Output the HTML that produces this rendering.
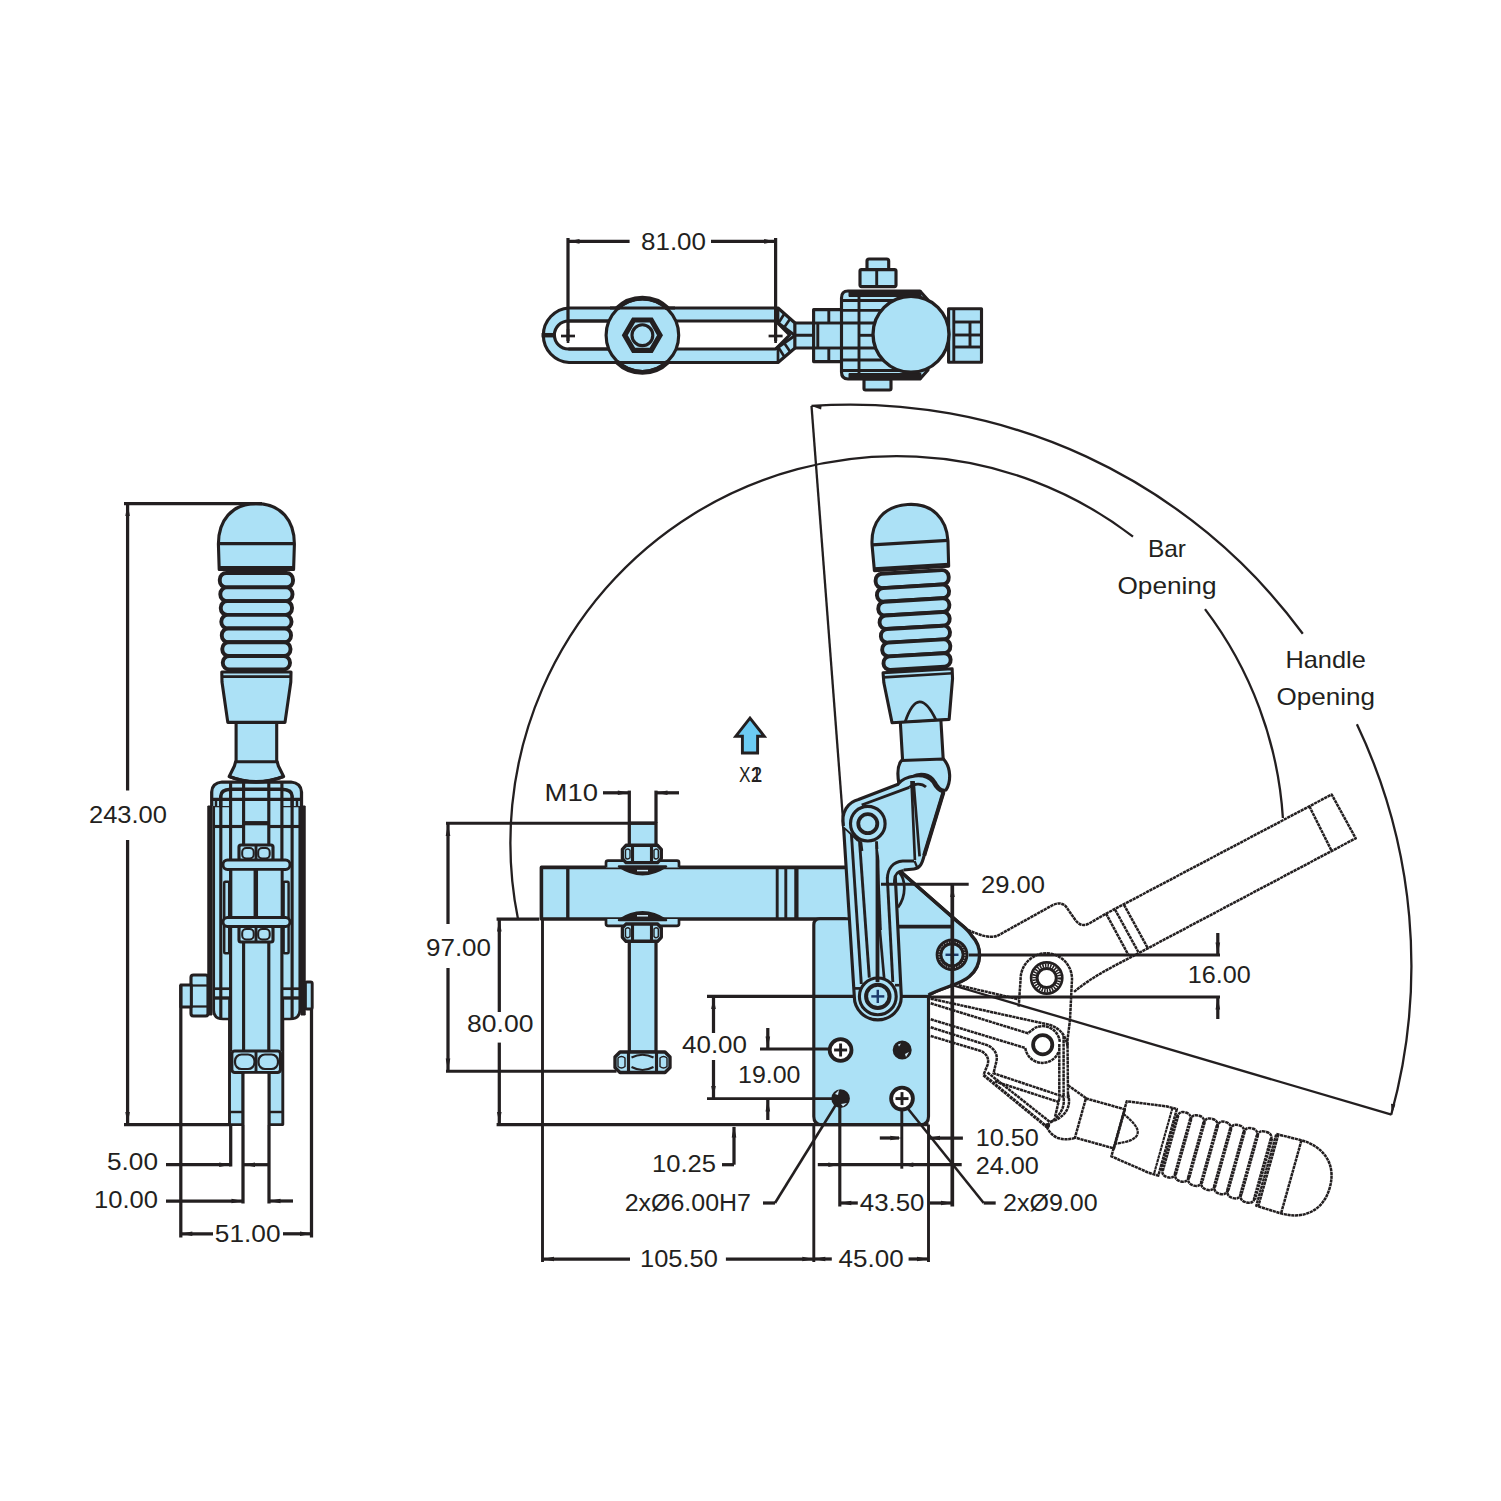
<!DOCTYPE html>
<html><head><meta charset="utf-8"><title>Toggle clamp drawing</title>
<style>
html,body{margin:0;padding:0;background:#fff;}
svg{display:block;}
svg text{font-family:"Liberation Sans",sans-serif;fill:#231f20;stroke:none;}
</style></head><body>
<svg width="1501" height="1501" viewBox="0 0 1501 1501" stroke="#231f20" fill="none" stroke-linecap="butt" stroke-linejoin="round">
<rect x="0" y="0" width="1501" height="1501" fill="#ffffff" stroke="none"/>
<g id="leftview">
<rect x="229.5" y="1015.0" width="13.5" height="109.6" rx="0" stroke-width="2.91" fill="#ace1f6" />
<rect x="269.0" y="1015.0" width="13.8" height="109.6" rx="0" stroke-width="2.91" fill="#ace1f6" />
<line x1="229.5" y1="1112.0" x2="243.0" y2="1112.0" stroke-width="2.46" />
<line x1="269.0" y1="1112.0" x2="282.8" y2="1112.0" stroke-width="2.46" />
<rect x="243.0" y="940.0" width="26.0" height="111.0" rx="0" stroke-width="2.91" fill="#ace1f6" />
<path d="M213.7,806 L213.7,1010 Q213.7,1019 223,1019 L229.5,1019 L229.5,1000 L282.8,1000 L282.8,1019 L290,1019 Q299.8,1019 299.8,1010 L299.8,806 Z" stroke-width="2.69" fill="#ace1f6" />
<rect x="229.5" y="806.0" width="53.3" height="245.0" rx="0" stroke-width="0" fill="#ace1f6" stroke="none"/>
<rect x="243.0" y="806.0" width="26.0" height="245.0" rx="0" stroke-width="0" fill="#ace1f6" stroke="none"/>
<path d="M211.7,806 L211.7,792 Q212,783 222,782 L291,782 Q301,783 301.5,792 L301.5,806 Z" stroke-width="0" fill="#ace1f6" stroke="none"/>
<path d="M211.7,806 L211.7,792 Q212,783 222,782 L291,782 Q301,783 301.5,792 L301.5,806" stroke-width="3.25" fill="none" />
<path d="M220.8,806 L220.8,796 Q221,789.5 230.6,789.2 L281.9,789.2 Q292,789.5 292.1,796 L292.1,806" stroke-width="3.58" fill="none" />
<rect x="207.8" y="806.0" width="4.2" height="209.0" rx="0" stroke-width="1.0" fill="#231f20" />
<rect x="301.0" y="806.0" width="4.2" height="209.0" rx="0" stroke-width="1.0" fill="#231f20" />
<line x1="220.8" y1="806.0" x2="220.8" y2="1018.0" stroke-width="3.14" />
<line x1="230.6" y1="782.0" x2="230.6" y2="1051.0" stroke-width="3.14" />
<line x1="243.6" y1="782.0" x2="243.6" y2="1051.0" stroke-width="3.14" />
<line x1="268.8" y1="782.0" x2="268.8" y2="1051.0" stroke-width="3.14" />
<line x1="281.9" y1="782.0" x2="281.9" y2="1051.0" stroke-width="3.14" />
<line x1="292.1" y1="806.0" x2="292.1" y2="1018.0" stroke-width="3.14" />
<line x1="216.0" y1="800.0" x2="216.0" y2="806.0" stroke-width="2.46" />
<line x1="297.0" y1="800.0" x2="297.0" y2="806.0" stroke-width="2.46" />
<line x1="211.7" y1="799.4" x2="301.5" y2="799.4" stroke-width="3.14" />
<line x1="213.0" y1="826.5" x2="243.6" y2="826.5" stroke-width="3.14" />
<line x1="268.8" y1="826.5" x2="300.0" y2="826.5" stroke-width="3.14" />
<line x1="243.6" y1="823.2" x2="268.8" y2="823.2" stroke-width="4.26" />
<rect x="239.0" y="845.0" width="34.0" height="15.5" rx="2" stroke-width="3.14" fill="#ace1f6" />
<rect x="242.2" y="848.0" width="11.5" height="10.5" rx="4" stroke-width="2.02" fill="#ace1f6" />
<rect x="258.2" y="848.0" width="11.5" height="10.5" rx="4" stroke-width="2.02" fill="#ace1f6" />
<line x1="256.0" y1="845.0" x2="256.0" y2="860.0" stroke-width="2.91" />
<rect x="224.2" y="881.7" width="5.0" height="71.5" rx="1" stroke-width="2.46" fill="#ace1f6" />
<rect x="283.6" y="881.7" width="5.0" height="71.5" rx="1" stroke-width="2.46" fill="#ace1f6" />
<rect x="223.0" y="860.0" width="67.0" height="9.5" rx="4.5" stroke-width="2.91" fill="#ace1f6" />
<rect x="231.0" y="869.5" width="51.0" height="48.0" rx="0" stroke-width="2.69" fill="#ace1f6" />
<rect x="223.0" y="917.5" width="67.0" height="9.0" rx="4.5" stroke-width="2.91" fill="#ace1f6" />
<line x1="255.8" y1="869.0" x2="255.8" y2="918.0" stroke-width="4.48" />
<rect x="239.0" y="926.5" width="34.0" height="15.5" rx="2" stroke-width="3.14" fill="#ace1f6" />
<rect x="242.2" y="929.0" width="11.5" height="10.5" rx="4" stroke-width="2.02" fill="#ace1f6" />
<rect x="258.2" y="929.0" width="11.5" height="10.5" rx="4" stroke-width="2.02" fill="#ace1f6" />
<line x1="256.0" y1="926.5" x2="256.0" y2="942.0" stroke-width="2.91" />
<rect x="231.8" y="1051.0" width="48.7" height="21.5" rx="3" stroke-width="3.14" fill="#ace1f6" />
<rect x="235.0" y="1054.5" width="19.5" height="14.5" rx="6.5" stroke-width="2.24" fill="#ace1f6" />
<rect x="258.5" y="1054.5" width="19.5" height="14.5" rx="6.5" stroke-width="2.24" fill="#ace1f6" />
<line x1="256.0" y1="1051.0" x2="256.0" y2="1072.5" stroke-width="2.91" />
<rect x="244.3" y="1073.8" width="23.4" height="52.0" rx="0" stroke-width="0" fill="#fff" stroke="none"/>
<line x1="243.0" y1="1072.5" x2="243.0" y2="1124.6" stroke-width="2.91" />
<line x1="269.0" y1="1072.5" x2="269.0" y2="1124.6" stroke-width="2.91" />
<rect x="191.0" y="975.0" width="17.0" height="41.0" rx="2.5" stroke-width="3.14" fill="#ace1f6" />
<rect x="180.8" y="985.0" width="10.5" height="22.0" rx="0" stroke-width="2.91" fill="#ace1f6" />
<line x1="191.0" y1="985.5" x2="208.0" y2="985.5" stroke-width="2.24" />
<line x1="191.0" y1="1006.5" x2="208.0" y2="1006.5" stroke-width="2.24" />
<rect x="305.4" y="982.0" width="6.8" height="27.0" rx="1.5" stroke-width="2.91" fill="#ace1f6" />
<line x1="213.0" y1="988.7" x2="230.6" y2="988.7" stroke-width="2.69" />
<line x1="213.0" y1="998.0" x2="230.6" y2="998.0" stroke-width="3.36" />
<line x1="281.9" y1="988.7" x2="299.0" y2="988.7" stroke-width="2.69" />
<line x1="281.9" y1="998.0" x2="299.0" y2="998.0" stroke-width="3.36" />
<g transform="translate(256.4,542) rotate(0)">
<rect x="-20.3" y="180" width="40.6" height="40.5" fill="#ace1f6" stroke-width="3.1"/>
<path d="M-20.8,219.8 L-22,224 L-27.2,234.5 Q0,245.5 27.2,234.5 L22,224 L20.8,219.8 Z" fill="#ace1f6" stroke-width="3.1"/>
<path d="M-34.6,130 L34.6,130 L34.4,140 L28.6,180.4 L-28.6,180.4 L-34.4,140 Z" fill="#ace1f6" stroke-width="3.1"/>
<path d="M-34.6,134.6 L34.6,134.6" stroke-width="2.63"/>
<rect x="-36.6" y="31.0" width="73.2" height="14.4" rx="6.5" fill="#ace1f6" stroke-width="3.9"/>
<rect x="-36.1" y="45.4" width="72.2" height="13.7" rx="6.5" fill="#ace1f6" stroke-width="3.9"/>
<rect x="-35.6" y="59.1" width="71.2" height="13.8" rx="6.5" fill="#ace1f6" stroke-width="3.9"/>
<rect x="-35.1" y="72.9" width="70.2" height="13.6" rx="6.5" fill="#ace1f6" stroke-width="3.9"/>
<rect x="-34.6" y="86.5" width="69.2" height="13.7" rx="6.5" fill="#ace1f6" stroke-width="3.9"/>
<rect x="-34.1" y="100.2" width="68.2" height="13.8" rx="6.5" fill="#ace1f6" stroke-width="3.9"/>
<rect x="-33.6" y="114.0" width="67.2" height="13.5" rx="6.5" fill="#ace1f6" stroke-width="3.9"/>
<path d="M-37.2,27.5 L-38,2 C-38,-21.1 -25,-38.4 0,-38.4 C25,-38.4 38,-21.1 38,2 L37.2,27.5 Z" fill="#ace1f6" stroke-width="3.1"/>
<path d="M-38,1.6 L38,1.6" stroke-width="3.1"/>
<path d="M-37.4,25.3 L37.4,25.3" stroke-width="2.63"/>
</g>
<path d="M229.4,776.5 Q256.4,787 283.4,776.5" stroke-width="3.36" fill="none" />
</g>
<g id="topview">
<path d="M569,308 L778,308 L795,323 L795,348 L778,362.5 L569,362.5 A27.3 27.3 0 0 1 569,308 Z" stroke-width="3.14" fill="#ace1f6" />
<path d="M568.4,321 L775.6,321 L789.6,335 L775.6,349 L568.4,349 A14 14 0 0 1 568.4,321 Z" stroke-width="3.14" fill="#fff" />
<line x1="778.0" y1="308.0" x2="778.0" y2="321.5" stroke-width="2.69" />
<line x1="778.0" y1="349.0" x2="778.0" y2="362.5" stroke-width="2.69" />
<line x1="775.6" y1="321.0" x2="795.0" y2="335.5" stroke-width="2.91" />
<line x1="775.6" y1="349.0" x2="795.0" y2="335.5" stroke-width="2.91" />
<line x1="784.5" y1="313.5" x2="778.5" y2="323.0" stroke-width="2.69" />
<line x1="790.0" y1="319.0" x2="783.5" y2="328.5" stroke-width="2.69" />
<line x1="784.5" y1="357.0" x2="778.5" y2="347.5" stroke-width="2.69" />
<line x1="790.0" y1="351.5" x2="783.5" y2="342.0" stroke-width="2.69" />
<line x1="541.6" y1="335.2" x2="554.4" y2="335.2" stroke-width="4.48" />
<circle cx="642.4" cy="335.2" r="36.3" stroke-width="3.14" fill="#ace1f6" />
<path d="M617,308.5 A36.3 36.3 0 0 1 667.8,308.5" stroke-width="4.93" fill="none" />
<path d="M617,362 A36.3 36.3 0 0 0 667.8,362" stroke-width="4.93" fill="none" />
<line x1="568.4" y1="321.0" x2="608.6" y2="321.0" stroke-width="3.14" />
<line x1="568.4" y1="349.0" x2="608.6" y2="349.0" stroke-width="3.14" />
<line x1="610.0" y1="308.0" x2="675.0" y2="308.0" stroke-width="3.14" />
<line x1="610.0" y1="362.5" x2="675.0" y2="362.5" stroke-width="3.14" />
<polygon points="660.0,335.2 651.2,350.4 633.6,350.4 624.8,335.2 633.6,320.0 651.2,320.0" fill="#ace1f6" stroke-width="5.2" stroke-linejoin="miter"/>
<circle cx="642.4" cy="335.2" r="10.4" stroke-width="3.14" fill="#ace1f6" />
<line x1="561.0" y1="336.0" x2="575.0" y2="336.0" stroke-width="2.69" />
<line x1="568.0" y1="329.0" x2="568.0" y2="343.0" stroke-width="2.69" />
<line x1="768.6" y1="336.0" x2="782.6" y2="336.0" stroke-width="2.69" />
<line x1="775.6" y1="329.0" x2="775.6" y2="343.0" stroke-width="2.69" />
<rect x="795.0" y="323.0" width="20.0" height="25.0" rx="0" stroke-width="2.91" fill="#ace1f6" />
<line x1="795.0" y1="335.3" x2="841.0" y2="335.3" stroke-width="3.14" />
<rect x="813.6" y="309.6" width="28.0" height="52.0" rx="0" stroke-width="3.14" fill="#ace1f6" />
<line x1="828.8" y1="309.6" x2="828.8" y2="323.0" stroke-width="2.91" />
<line x1="828.8" y1="348.0" x2="828.8" y2="361.5" stroke-width="2.91" />
<line x1="813.6" y1="323.0" x2="841.5" y2="323.0" stroke-width="2.91" />
<line x1="813.6" y1="348.0" x2="841.5" y2="348.0" stroke-width="2.91" />
<line x1="817.8" y1="323.0" x2="817.8" y2="348.0" stroke-width="2.91" />
<rect x="948.6" y="308.8" width="32.9" height="53.5" rx="0" stroke-width="3.14" fill="#ace1f6" />
<line x1="953.8" y1="308.8" x2="953.8" y2="362.0" stroke-width="2.91" />
<line x1="953.8" y1="322.0" x2="981.5" y2="322.0" stroke-width="2.91" />
<line x1="953.8" y1="335.0" x2="981.5" y2="335.0" stroke-width="2.91" />
<line x1="953.8" y1="347.0" x2="981.5" y2="347.0" stroke-width="2.91" />
<line x1="970.0" y1="322.0" x2="970.0" y2="347.0" stroke-width="2.91" />
<rect x="867.0" y="259.0" width="21.7" height="11.0" rx="2" stroke-width="3.14" fill="#ace1f6" />
<rect x="860.0" y="269.6" width="36.0" height="17.0" rx="1.5" stroke-width="3.14" fill="#ace1f6" />
<line x1="876.7" y1="269.6" x2="876.7" y2="286.5" stroke-width="2.91" />
<rect x="864.0" y="379.0" width="27.0" height="11.0" rx="1.5" stroke-width="3.14" fill="#ace1f6" />
<path d="M848,291 L920,291 L928,300 L928,370 L920,379 L848,379 Q841.5,379 841.5,372 L841.5,298 Q841.5,291 848,291 Z" stroke-width="3.14" fill="#ace1f6" />
<rect x="849.0" y="290.5" width="72.0" height="6.0" rx="0" stroke-width="1" fill="#231f20" />
<rect x="849.0" y="373.5" width="72.0" height="6.0" rx="0" stroke-width="1" fill="#231f20" />
<line x1="859.0" y1="296.0" x2="859.0" y2="374.0" stroke-width="2.91" />
<line x1="841.5" y1="300.5" x2="915.0" y2="300.5" stroke-width="2.91" />
<line x1="841.5" y1="310.4" x2="915.0" y2="310.4" stroke-width="2.91" />
<line x1="841.5" y1="323.0" x2="915.0" y2="323.0" stroke-width="2.91" />
<line x1="841.5" y1="348.0" x2="915.0" y2="348.0" stroke-width="2.91" />
<line x1="841.5" y1="360.0" x2="915.0" y2="360.0" stroke-width="2.91" />
<line x1="841.5" y1="370.5" x2="915.0" y2="370.5" stroke-width="2.91" />
<line x1="859.0" y1="335.3" x2="885.0" y2="335.3" stroke-width="2.91" />
<circle cx="911.0" cy="334.3" r="38.0" stroke-width="3.36" fill="#ace1f6" />
</g>
<g id="open" fill="none">
<path d="M968,930 C978,934.5 990,939 998,935.5 L1052,905.5 C1058,902 1064,903 1067,908 L1075,919.5 C1079,925.5 1084,926.5 1090,923 L1106.3,913.5 L1331.7,794.5 L1355.7,838.3 L1131.9,956.7 C1112,967 1090,978 1074,992" stroke-width="2.5" fill="none" stroke-dasharray="3.2 0.6"/>
<path d="M1309.4,806.4 L1331.7,851" stroke-width="2.5" fill="none" stroke-dasharray="3.2 0.6"/>
<path d="M1106,913.5 L1128.7,955.5" stroke-width="2.5" fill="none" stroke-dasharray="3.2 0.6"/>
<path d="M1115,909.5 L1138.3,952" stroke-width="2.5" fill="none" stroke-dasharray="3.2 0.6"/>
<path d="M1124,904.8 L1148,948.5" stroke-width="2.5" fill="none" stroke-dasharray="3.2 0.6"/>
<path d="M1018.7,1006.7 L1020.6,979 A25.7 25.7 0 0 1 1072,979 L1070,1020 L1067.5,1040 L1068,1098.7" stroke-width="2.5" fill="none" stroke-dasharray="3.2 0.6"/>
<path d="M1059.3,1044 L1059.3,1098.7" stroke-width="2.5" fill="none" stroke-dasharray="3.2 0.6"/>
<path d="M1063.6,1036 L1063.6,1096" stroke-width="2.5" fill="none" stroke-dasharray="3.2 0.6"/>
<circle cx="1046.7" cy="978" r="15.6" stroke-width="2.6"/>
<circle cx="1046.7" cy="978" r="9.6" stroke-width="3"/>
<circle cx="1046.7" cy="978" r="12.6" stroke-width="3.8" stroke-dasharray="1.5 1.1"/>
<circle cx="1042.7" cy="1044.7" r="9.6" stroke-width="3.81" fill="none" />
<path d="M1034.7,1028 A17.3 17.3 0 0 1 1059.8,1042" stroke-width="2.5" fill="none" stroke-dasharray="3.2 0.6"/>
<path d="M1025.3,1048 A17.3 17.3 0 0 0 1058.5,1052" stroke-width="2.5" fill="none" stroke-dasharray="3.2 0.6"/>
<path d="M1049.3,1024.7 C1060,1028 1066,1036 1067.5,1046" stroke-width="2.5" fill="none" stroke-dasharray="3.2 0.6"/>
<path d="M958.7,985.3 L1018.7,999.3" stroke-width="2.5" fill="none" stroke-dasharray="3.2 0.6"/>
<path d="M930.7,998.7 L1049.3,1024.7" stroke-width="2.5" fill="none" stroke-dasharray="3.2 0.6"/>
<path d="M930.7,1003.3 L1028,1033.3 L1034.7,1028" stroke-width="2.5" fill="none" stroke-dasharray="3.2 0.6"/>
<path d="M930.7,1019.3 L1025.3,1048" stroke-width="2.5" fill="none" stroke-dasharray="3.2 0.6"/>
<path d="M930.7,1027.3 L986,1044.8 C994,1047.5 998,1054 996.5,1061 L993.5,1073.3 L1065.3,1097.3" stroke-width="2.5" fill="none" stroke-dasharray="3.2 0.6"/>
<path d="M930.7,1036 L980,1050.7 C987,1053.5 989.5,1059 987.5,1065 L983.5,1075" stroke-width="2.5" fill="none" stroke-dasharray="3.2 0.6"/>
<path d="M994.7,1081.3 L1058.7,1102" stroke-width="2.5" fill="none" stroke-dasharray="3.2 0.6"/>
<path d="M983.5,1075 L1046.7,1126.7" stroke-width="3.2" fill="none" stroke-dasharray="3.2 0.6"/>
<path d="M987.5,1072.5 L1050,1122" stroke-width="2.5" fill="none" stroke-dasharray="3.2 0.6"/>
<path d="M1068,1094 C1072,1108 1064,1118 1050,1122" stroke-width="2.5" fill="none" stroke-dasharray="3.2 0.6"/>
<path d="M1063.6,1098 C1065,1110 1058,1117 1048.5,1124" stroke-width="2.5" fill="none" stroke-dasharray="3.2 0.6"/>
<path d="M1059.3,1098.7 L1055,1117" stroke-width="2.5" fill="none" stroke-dasharray="3.2 0.6"/>
<circle cx="1047.5" cy="1125.5" r="2.6" fill="#231f20" stroke="none"/>
<path d="M1046.7,1126.7 C1049,1132 1053,1136 1058,1138 C1064,1140 1070,1139.5 1075.6,1137.7" stroke-width="2.5" fill="none" stroke-dasharray="3.2 0.6"/>
<path d="M1068,1085.3 L1086.6,1098.6" stroke-width="2.5" fill="none" stroke-dasharray="3.2 0.6"/>
<g transform="translate(1292.8,1177.3) rotate(105.6)" fill="none" stroke-width="2.5" stroke-dasharray="3.2 0.6">
<rect x="-20.3" y="180" width="40.6" height="40.5" fill="none" stroke-width="2.5"/>
<path d="M-34.6,130 L34.6,130 L34.4,140 L28.6,180.4 L-28.6,180.4 L-34.4,140 Z" fill="none" stroke-width="2.5"/>
<path d="M-34.6,134.6 L34.6,134.6" stroke-width="2.12"/>
<path d="M-15.5,180.4 Q0,142 15.5,180.4" fill="none" stroke-width="2.25"/>
<path d="M-30.1,31.0 Q-36.6,31.0 -36.6,37.5 L-36.6,38.9 Q-36.6,45.4 -30.1,45.4" stroke-width="2.5"/>
<path d="M30.1,31.0 Q36.6,31.0 36.6,37.5 L36.6,38.9 Q36.6,45.4 30.1,45.4" stroke-width="2.5"/>
<path d="M-29.6,45.4 Q-36.1,45.4 -36.1,51.9 L-36.1,52.6 Q-36.1,59.1 -29.6,59.1" stroke-width="2.5"/>
<path d="M29.6,45.4 Q36.1,45.4 36.1,51.9 L36.1,52.6 Q36.1,59.1 29.6,59.1" stroke-width="2.5"/>
<path d="M-29.1,59.1 Q-35.6,59.1 -35.6,65.6 L-35.6,66.4 Q-35.6,72.9 -29.1,72.9" stroke-width="2.5"/>
<path d="M29.1,59.1 Q35.6,59.1 35.6,65.6 L35.6,66.4 Q35.6,72.9 29.1,72.9" stroke-width="2.5"/>
<path d="M-28.6,72.9 Q-35.1,72.9 -35.1,79.4 L-35.1,80.0 Q-35.1,86.5 -28.6,86.5" stroke-width="2.5"/>
<path d="M28.6,72.9 Q35.1,72.9 35.1,79.4 L35.1,80.0 Q35.1,86.5 28.6,86.5" stroke-width="2.5"/>
<path d="M-28.1,86.5 Q-34.6,86.5 -34.6,93.0 L-34.6,93.7 Q-34.6,100.2 -28.1,100.2" stroke-width="2.5"/>
<path d="M28.1,86.5 Q34.6,86.5 34.6,93.0 L34.6,93.7 Q34.6,100.2 28.1,100.2" stroke-width="2.5"/>
<path d="M-27.6,100.2 Q-34.1,100.2 -34.1,106.7 L-34.1,107.5 Q-34.1,114.0 -27.6,114.0" stroke-width="2.5"/>
<path d="M27.6,100.2 Q34.1,100.2 34.1,106.7 L34.1,107.5 Q34.1,114.0 27.6,114.0" stroke-width="2.5"/>
<path d="M-27.1,114.0 Q-33.6,114.0 -33.6,120.5 L-33.6,121.0 Q-33.6,127.5 -27.1,127.5" stroke-width="2.5"/>
<path d="M27.1,114.0 Q33.6,114.0 33.6,120.5 L33.6,121.0 Q33.6,127.5 27.1,127.5" stroke-width="2.5"/>
<path d="M-31.6,31.0 L31.6,31.0" stroke-width="3.6" stroke-dasharray="2.8 0.6"/>
<path d="M-31.1,45.4 L31.1,45.4" stroke-width="3.6" stroke-dasharray="2.8 0.6"/>
<path d="M-30.6,59.1 L30.6,59.1" stroke-width="3.6" stroke-dasharray="2.8 0.6"/>
<path d="M-30.1,72.9 L30.1,72.9" stroke-width="3.6" stroke-dasharray="2.8 0.6"/>
<path d="M-29.6,86.5 L29.6,86.5" stroke-width="3.6" stroke-dasharray="2.8 0.6"/>
<path d="M-29.1,100.2 L29.1,100.2" stroke-width="3.6" stroke-dasharray="2.8 0.6"/>
<path d="M-28.6,114.0 L28.6,114.0" stroke-width="3.6" stroke-dasharray="2.8 0.6"/>
<path d="M-28.6,127.5 L28.6,127.5" stroke-width="3.6" stroke-dasharray="2.8 0.6"/>
<path d="M-37.2,27.5 L-38,2 C-38,-21.1 -25,-38.4 0,-38.4 C25,-38.4 38,-21.1 38,2 L37.2,27.5 Z" fill="none" stroke-width="2.5"/>
<path d="M-38,1.6 L38,1.6" stroke-width="2.5"/>
<path d="M-37.4,25.3 L37.4,25.3" stroke-width="2.12"/>
</g>
</g>
<g id="closed">
<path d="M541.4,867.4 L898,867.4 L901,872 L958,922 C963,926.5 968,929.5 971.4,935.6 A27.5 27.5 0 0 1 969.7,976 C962,984 940,988 928.5,995 L928.5,997 L845,997 L845,919 L541.4,919 Z" stroke-width="3.58" fill="#ace1f6" />
<path d="M820,918.8 L860,918.8 L860,926.6 L928.5,926.6 L928.5,1116.5 Q928.5,1124.7 920.5,1124.7 L821.8,1124.7 Q813.8,1124.7 813.8,1116.5 L813.8,925 Q813.8,918.8 820,918.8 Z" stroke-width="0" fill="#ace1f6" stroke="none"/>
<path d="M928.5,995 L928.5,1116.5 Q928.5,1124.7 920.5,1124.7 L821.8,1124.7 Q813.8,1124.7 813.8,1116.5 L813.8,925 Q813.8,918.8 820,918.8 L860,918.8" stroke-width="3.14" fill="none" />
<path d="M958,922 C963,926.5 968,929.5 971.4,935.6 A27.5 27.5 0 0 1 969.7,976 C962,984 940,988 928.5,995" stroke-width="3.14" fill="#ace1f6" />
<line x1="898.6" y1="926.6" x2="952.0" y2="926.6" stroke-width="3.58" />
<line x1="901.0" y1="872.0" x2="958.0" y2="922.0" stroke-width="3.14" />
<line x1="567.8" y1="867.4" x2="567.8" y2="919.0" stroke-width="3.36" />
<line x1="777.2" y1="867.4" x2="777.2" y2="919.0" stroke-width="2.91" />
<line x1="785.8" y1="867.4" x2="785.8" y2="919.0" stroke-width="2.91" />
<line x1="796.4" y1="867.4" x2="796.4" y2="919.0" stroke-width="4.26" />
<rect x="629.3" y="823.0" width="26.7" height="23.0" rx="0" stroke-width="3.25" fill="#ace1f6" />
<rect x="629.3" y="940.0" width="26.7" height="112.0" rx="0" stroke-width="3.25" fill="#ace1f6" />
<path d="M606,867.4 L606,862.5 Q606,860.7 608,860.7 L677,860.7 Q679,860.7 679,862.5 L679,867.4" stroke-width="2.69" fill="#ace1f6" />
<path d="M606,919 L606,924 Q606,925.8 608,925.8 L677,925.8 Q679,925.8 679,924 L679,919" stroke-width="2.69" fill="#ace1f6" />
<path d="M619,866.5 Q642.6,882 666,866.5 Z" stroke-width="2.46" fill="#231f20" />
<path d="M619,920 Q642.6,904.5 666,920 Z" stroke-width="2.46" fill="#231f20" />
<line x1="637.0" y1="870.6" x2="648.0" y2="870.6" stroke-width="1.5" stroke="#cfeaf8"/>
<line x1="637.0" y1="915.8" x2="648.0" y2="915.8" stroke-width="1.5" stroke="#cfeaf8"/>
<path d="M626,845.3 L657.6,845.3 L661.3,849.3 L661.3,858.5999999999999 L657.6,862.5999999999999 L626,862.5999999999999 L622.4,858.5999999999999 L622.4,849.3 Z" stroke-width="3.36" fill="#ace1f6" />
<line x1="632.5" y1="845.3" x2="632.5" y2="862.6" stroke-width="3.14" />
<line x1="651.5" y1="845.3" x2="651.5" y2="862.6" stroke-width="3.14" />
<path d="M625.5,850.3 Q627.5,847.8 630,850.3 L630,857.8 Q627.5,860.3 625.5,857.8 Z M654,850.3 Q656,847.8 658.3,850.3 L658.3,857.8 Q656,860.3 654,857.8 Z" stroke-width="1.4" fill="none" />
<path d="M626,924 L657.6,924 L661.3,928 L661.3,937.3 L657.6,941.3 L626,941.3 L622.4,937.3 L622.4,928 Z" stroke-width="3.36" fill="#ace1f6" />
<line x1="632.5" y1="924.0" x2="632.5" y2="941.3" stroke-width="3.14" />
<line x1="651.5" y1="924.0" x2="651.5" y2="941.3" stroke-width="3.14" />
<path d="M625.5,929 Q627.5,926.5 630,929 L630,936.5 Q627.5,939 625.5,936.5 Z M654,929 Q656,926.5 658.3,929 L658.3,936.5 Q656,939 654,936.5 Z" stroke-width="1.4" fill="none" />
<path d="M620,1052 L665,1052 L670,1057 L670,1067.5 L665,1072.5 L620,1072.5 L615,1067.5 L615,1057 Z" stroke-width="3.36" fill="#ace1f6" />
<line x1="628.5" y1="1052.0" x2="628.5" y2="1072.5" stroke-width="3.14" />
<line x1="656.5" y1="1052.0" x2="656.5" y2="1072.5" stroke-width="3.14" />
<path d="M631.5,1057.5 Q642.5,1052 653.5,1057.5 M631.5,1067 Q642.5,1072.8 653.5,1067" stroke-width="2.02" fill="none" />
<path d="M618,1058 Q621.5,1055 625,1058 L625,1066.5 Q621.5,1069.5 618,1066.5 Z M660,1058 Q663.5,1055 667,1058 L667,1066.5 Q663.5,1069.5 660,1066.5 Z" stroke-width="1.4" fill="none" />
<path d="M843.5,826 L854.3,996.4 A23.5 23.5 0 1 0 901.3,996.4 L895.3,877 C893,866 888,858 880,850 L878,840 L858,840 Z" stroke-width="3.14" fill="#ace1f6" />
<line x1="851.0" y1="828.0" x2="861.3" y2="984.0" stroke-width="2.91" />
<line x1="859.5" y1="841.0" x2="869.3" y2="977.7" stroke-width="2.91" />
<line x1="877.5" y1="845.0" x2="877.5" y2="982.0" stroke-width="3.81" />
<line x1="879.3" y1="924.0" x2="884.2" y2="978.8" stroke-width="2.69" />
<line x1="887.3" y1="877.0" x2="892.8" y2="982.0" stroke-width="2.91" />
<line x1="876.6" y1="841.0" x2="880.5" y2="930.0" stroke-width="2.69" />
<circle cx="877.8" cy="996.4" r="18.4" stroke-width="3.14" fill="none" />
<circle cx="877.8" cy="996.4" r="11.7" stroke-width="4.03" fill="#ace1f6" />
<line x1="871.3" y1="996.4" x2="884.3" y2="996.4" stroke-width="2.46" stroke="#1d3a6b"/>
<line x1="877.8" y1="989.8" x2="877.8" y2="1003.0" stroke-width="2.46" stroke="#1d3a6b"/>
<line x1="855.0" y1="988.4" x2="860.5" y2="988.4" stroke-width="2.69" />
<line x1="895.0" y1="985.2" x2="899.5" y2="985.2" stroke-width="2.69" />
<g transform="translate(909.9,541) rotate(-3.4)">
<rect x="-20.3" y="180" width="40.6" height="40.5" fill="#ace1f6" stroke-width="3.1"/>
<path d="M-34.6,130 L34.6,130 L34.4,140 L28.6,180.4 L-28.6,180.4 L-34.4,140 Z" fill="#ace1f6" stroke-width="3.1"/>
<path d="M-34.6,134.6 L34.6,134.6" stroke-width="2.63"/>
<path d="M-15.5,180.4 Q0,142 15.5,180.4" fill="none" stroke-width="2.79"/>
<rect x="-36.6" y="31.0" width="73.2" height="14.4" rx="6.5" fill="#ace1f6" stroke-width="3.9"/>
<rect x="-36.1" y="45.4" width="72.2" height="13.7" rx="6.5" fill="#ace1f6" stroke-width="3.9"/>
<rect x="-35.6" y="59.1" width="71.2" height="13.8" rx="6.5" fill="#ace1f6" stroke-width="3.9"/>
<rect x="-35.1" y="72.9" width="70.2" height="13.6" rx="6.5" fill="#ace1f6" stroke-width="3.9"/>
<rect x="-34.6" y="86.5" width="69.2" height="13.7" rx="6.5" fill="#ace1f6" stroke-width="3.9"/>
<rect x="-34.1" y="100.2" width="68.2" height="13.8" rx="6.5" fill="#ace1f6" stroke-width="3.9"/>
<rect x="-33.6" y="114.0" width="67.2" height="13.5" rx="6.5" fill="#ace1f6" stroke-width="3.9"/>
<path d="M-37.2,27.5 L-38,2 C-38,-20.1 -25,-36.6 0,-36.6 C25,-36.6 38,-20.1 38,2 L37.2,27.5 Z" fill="#ace1f6" stroke-width="3.1"/>
<path d="M-38,1.6 L38,1.6" stroke-width="3.1"/>
<path d="M-37.4,25.3 L37.4,25.3" stroke-width="2.63"/>
</g>
<path d="M901.5,760.5 C897,766 897.5,776 899,784 L912,777 C920,772 930,774 935,782 C938,788 942,791 946,790 C951,782 951.5,768 943.5,759 Z" stroke-width="3.14" fill="#ace1f6" />
<path d="M843.3,826 C841,812 848,802 858.5,799.5 L897.5,784.5 C905,775 925,772 933,782 C936,788 939,791 943.5,792 L924.2,855.4 C922,864 920,868.5 914,869 L903.7,870 C896,871 894.4,876 894.4,882 L887.4,882 L887.4,878.7 C880,870 878,850 877,841.4 L860.8,841.4 Z" stroke-width="0" fill="#ace1f6" stroke="none"/>
<path d="M843.3,826 C841,812 848,802 858.5,799.5 L897.5,784.5 C905,775 925,772 933,782 C936,788 939,791 943.5,792 L924.2,855.4 C922,864 920,868.5 914,869 L903.7,870" stroke-width="3.14" fill="none" />
<path d="M899,872.5 C906,879 906.5,896 898,907.5" stroke-width="2.69" fill="none" />
<path d="M861.7,805 L909.3,787.3" stroke-width="2.91" fill="none" />
<path d="M897.5,784.5 L899,784 M909.3,787.3 C914,783 922,783 926,787" stroke-width="2.69" fill="none" />
<path d="M911.5,781 L914.9,860 M913.5,781 L919.6,856.3" stroke-width="2.69" fill="none" />
<path d="M943.5,792 L924.2,855.4" stroke-width="4.03" fill="none" />
<path d="M914,861 L902.8,861 C893,861.5 887.4,869 887.4,878.7 L887.4,884" stroke-width="2.91" fill="none" />
<path d="M903.7,870.3 C897,871 894.4,875 894.4,880.6 L894.4,884" stroke-width="2.69" fill="none" />
<path d="M914.5,861 L917.5,868" stroke-width="2.24" fill="none" />
<circle cx="867.8" cy="823.7" r="17.3" stroke-width="3.14" fill="#ace1f6" />
<circle cx="867.8" cy="823.7" r="9.5" stroke-width="3.81" fill="#ace1f6" />
<path d="M860.8,841.4 L862,851 M876.6,841.4 L877,849" stroke-width="2.69" fill="none" />
<circle cx="840.6" cy="1050.0" r="10.9" stroke-width="3.81" fill="#fff" />
<line x1="834.1" y1="1050.0" x2="847.1" y2="1050.0" stroke-width="2.91" />
<line x1="840.6" y1="1043.5" x2="840.6" y2="1056.5" stroke-width="2.91" />
<circle cx="902.0" cy="1098.6" r="10.9" stroke-width="3.81" fill="#fff" />
<line x1="895.5" y1="1098.6" x2="908.5" y2="1098.6" stroke-width="2.91" />
<line x1="902.0" y1="1092.1" x2="902.0" y2="1105.1" stroke-width="2.91" />
<circle cx="902.2" cy="1050.0" r="8.4" stroke-width="2.24" fill="#231f20" />
<circle cx="840.6" cy="1098.6" r="8.2" stroke-width="2.24" fill="#231f20" />
<path d="M898,1044.5 l3,-1 l-2,3 Z M905,1054 l4,-2 l-3,5 Z" stroke-width="1" fill="#cfeaf8" stroke="none"/>
<path d="M835,1094 l4,-4 l-1,5 Z M841,1104 l6,-1 l-4,3.5 Z" stroke-width="1" fill="#cfeaf8" stroke="none"/>
<circle cx="952.0" cy="954.8" r="13.0" stroke-width="6.72" fill="#ace1f6" />
<circle cx="952" cy="954.8" r="13" stroke="#fff" stroke-width="0.9" stroke-dasharray="1 1.7"/>
<line x1="945.5" y1="954.8" x2="958.5" y2="954.8" stroke-width="2.46" stroke="#1d3a6b"/>
<line x1="952.0" y1="948.5" x2="952.0" y2="961.0" stroke-width="2.46" />
</g>
<g id="dims">
<path d="M811.5,405.9 A561.2 561.2 0 0 1 1302.8,633.8" stroke-width="2.3" fill="none" />
<path d="M1356.9,724.3 A561.2 561.2 0 0 1 1391.2,1114.7" stroke-width="2.3" fill="none" />
<path d="M518.0,919.0 A386.5 386.5 0 0 1 1133.0,536.7" stroke-width="2.3" fill="none" />
<path d="M1205.0,609.1 A386.5 386.5 0 0 1 1282.9,818.0" stroke-width="2.3" fill="none" />
<line x1="811.5" y1="405.9" x2="843.5" y2="826.0" stroke-width="2.3" />
<line x1="950.0" y1="984.5" x2="1391.5" y2="1114.7" stroke-width="2.3" />
<polygon points="811.5,405.9 821.7,405.1 821.1,409.5" fill="#231f20" stroke="none"/>
<polygon points="1391.8,1114.0 1391.0,1103.8 1395.4,1104.4" fill="#231f20" stroke="none"/>
<line x1="124.0" y1="503.6" x2="262.0" y2="503.6" stroke-width="3.25" />
<line x1="124.0" y1="1124.6" x2="230.0" y2="1124.6" stroke-width="3.25" />
<line x1="127.6" y1="503.6" x2="127.6" y2="790.5" stroke-width="3.25" />
<line x1="127.6" y1="840.0" x2="127.6" y2="1124.6" stroke-width="3.25" />
<polygon points="127.6,504.5 129.9,516.0 125.3,516.0" fill="#231f20" stroke="none"/>
<polygon points="127.6,1123.5 125.3,1112.0 129.9,1112.0" fill="#231f20" stroke="none"/>
<text x="89.0" y="822.8" font-size="24.3" text-anchor="start" textLength="78.0" lengthAdjust="spacingAndGlyphs" >243.00</text>
<line x1="230.7" y1="1124.6" x2="230.7" y2="1166.5" stroke-width="3.25" />
<line x1="243.0" y1="1124.6" x2="243.0" y2="1203.5" stroke-width="3.25" />
<line x1="269.0" y1="1124.6" x2="269.0" y2="1203.5" stroke-width="3.25" />
<line x1="166.0" y1="1164.7" x2="230.7" y2="1164.7" stroke-width="3.25" />
<line x1="244.0" y1="1164.7" x2="269.0" y2="1164.7" stroke-width="3.25" />
<polygon points="230.7,1164.7 219.2,1167.0 219.2,1162.4" fill="#231f20" stroke="none"/>
<polygon points="243.5,1164.7 255.0,1162.4 255.0,1167.0" fill="#231f20" stroke="none"/>
<text x="107.0" y="1170.0" font-size="24.3" text-anchor="start" textLength="51.0" lengthAdjust="spacingAndGlyphs" >5.00</text>
<line x1="166.0" y1="1201.0" x2="243.0" y2="1201.0" stroke-width="3.25" />
<line x1="269.0" y1="1201.0" x2="293.0" y2="1201.0" stroke-width="3.25" />
<polygon points="243.0,1201.0 231.5,1203.3 231.5,1198.7" fill="#231f20" stroke="none"/>
<polygon points="269.0,1201.0 280.5,1198.7 280.5,1203.3" fill="#231f20" stroke="none"/>
<text x="94.0" y="1208.0" font-size="24.3" text-anchor="start" textLength="64.0" lengthAdjust="spacingAndGlyphs" >10.00</text>
<line x1="180.8" y1="985.0" x2="180.8" y2="1237.5" stroke-width="3.25" />
<line x1="311.5" y1="1009.0" x2="311.5" y2="1237.5" stroke-width="3.25" />
<line x1="180.8" y1="1233.8" x2="213.0" y2="1233.8" stroke-width="3.25" />
<line x1="283.0" y1="1233.8" x2="311.5" y2="1233.8" stroke-width="3.25" />
<polygon points="180.8,1233.8 192.3,1231.5 192.3,1236.1" fill="#231f20" stroke="none"/>
<polygon points="311.5,1233.8 300.0,1236.1 300.0,1231.5" fill="#231f20" stroke="none"/>
<text x="214.8" y="1242.4" font-size="24.3" text-anchor="start" textLength="65.7" lengthAdjust="spacingAndGlyphs" >51.00</text>
<line x1="568.0" y1="238.0" x2="568.0" y2="341.0" stroke-width="3.25" />
<line x1="775.6" y1="238.0" x2="775.6" y2="341.0" stroke-width="3.25" />
<line x1="568.0" y1="241.4" x2="629.6" y2="241.4" stroke-width="3.25" />
<line x1="711.0" y1="241.4" x2="775.6" y2="241.4" stroke-width="3.25" />
<polygon points="568.0,241.4 579.5,239.1 579.5,243.7" fill="#231f20" stroke="none"/>
<polygon points="775.6,241.4 764.1,243.7 764.1,239.1" fill="#231f20" stroke="none"/>
<text x="641.0" y="250.0" font-size="24.3" text-anchor="start" textLength="65.0" lengthAdjust="spacingAndGlyphs" >81.00</text>
<line x1="603.0" y1="792.8" x2="630.0" y2="792.8" stroke-width="3.25" />
<line x1="656.0" y1="792.8" x2="679.0" y2="792.8" stroke-width="3.25" />
<line x1="629.3" y1="790.6" x2="629.3" y2="823.0" stroke-width="3.25" />
<line x1="656.0" y1="790.6" x2="656.0" y2="823.0" stroke-width="3.25" />
<polygon points="629.3,792.8 617.8,795.1 617.8,790.5" fill="#231f20" stroke="none"/>
<polygon points="656.0,792.8 667.5,790.5 667.5,795.1" fill="#231f20" stroke="none"/>
<text x="544.6" y="801.3" font-size="24.3" text-anchor="start" textLength="53.4" lengthAdjust="spacingAndGlyphs" >M10</text>
<line x1="446.0" y1="823.2" x2="656.0" y2="823.2" stroke-width="3.14" />
<line x1="446.0" y1="1071.3" x2="616.5" y2="1071.3" stroke-width="2.91" />
<line x1="448.0" y1="823.2" x2="448.0" y2="924.0" stroke-width="3.25" />
<line x1="448.0" y1="968.0" x2="448.0" y2="1071.3" stroke-width="3.25" />
<polygon points="448.0,824.5 450.3,836.0 445.7,836.0" fill="#231f20" stroke="none"/>
<polygon points="448.0,1070.0 445.7,1058.5 450.3,1058.5" fill="#231f20" stroke="none"/>
<text x="426.0" y="956.0" font-size="24.3" text-anchor="start" textLength="65.0" lengthAdjust="spacingAndGlyphs" >97.00</text>
<line x1="496.6" y1="919.0" x2="539.3" y2="919.0" stroke-width="3.25" />
<line x1="499.3" y1="919.0" x2="499.3" y2="1012.0" stroke-width="3.25" />
<line x1="499.3" y1="1042.6" x2="499.3" y2="1124.6" stroke-width="3.25" />
<polygon points="499.3,920.0 501.6,931.5 497.0,931.5" fill="#231f20" stroke="none"/>
<polygon points="499.3,1123.5 497.0,1112.0 501.6,1112.0" fill="#231f20" stroke="none"/>
<text x="467.0" y="1032.0" font-size="24.3" text-anchor="start" textLength="66.4" lengthAdjust="spacingAndGlyphs" >80.00</text>
<line x1="496.6" y1="1124.6" x2="928.5" y2="1124.6" stroke-width="3.14" />
<line x1="542.5" y1="919.0" x2="542.5" y2="1262.0" stroke-width="2.91" />
<line x1="707.0" y1="996.4" x2="854.0" y2="996.4" stroke-width="3.14" />
<line x1="901.5" y1="996.4" x2="928.5" y2="996.4" stroke-width="3.14" />
<line x1="713.5" y1="996.2" x2="713.5" y2="1033.0" stroke-width="3.25" />
<line x1="713.5" y1="1060.0" x2="713.5" y2="1098.6" stroke-width="3.25" />
<polygon points="713.5,997.5 715.8,1009.0 711.2,1009.0" fill="#231f20" stroke="none"/>
<polygon points="713.5,1097.5 711.2,1086.0 715.8,1086.0" fill="#231f20" stroke="none"/>
<line x1="707.0" y1="1098.6" x2="832.0" y2="1098.6" stroke-width="2.91" />
<text x="682.0" y="1052.6" font-size="24.3" text-anchor="start" textLength="65.0" lengthAdjust="spacingAndGlyphs" >40.00</text>
<line x1="760.0" y1="1049.0" x2="829.0" y2="1049.0" stroke-width="2.91" />
<line x1="767.8" y1="1028.0" x2="767.8" y2="1049.0" stroke-width="3.25" />
<line x1="767.8" y1="1098.6" x2="767.8" y2="1120.0" stroke-width="3.25" />
<polygon points="767.8,1048.0 765.5,1036.5 770.1,1036.5" fill="#231f20" stroke="none"/>
<polygon points="767.8,1100.0 770.1,1111.5 765.5,1111.5" fill="#231f20" stroke="none"/>
<text x="738.0" y="1083.0" font-size="24.3" text-anchor="start" textLength="62.5" lengthAdjust="spacingAndGlyphs" >19.00</text>
<line x1="722.0" y1="1164.7" x2="734.0" y2="1164.7" stroke-width="3.25" />
<line x1="734.0" y1="1127.0" x2="734.0" y2="1164.7" stroke-width="3.25" />
<polygon points="734.0,1126.0 736.3,1137.5 731.7,1137.5" fill="#231f20" stroke="none"/>
<text x="652.0" y="1172.0" font-size="24.3" text-anchor="start" textLength="64.0" lengthAdjust="spacingAndGlyphs" >10.25</text>
<line x1="763.0" y1="1203.0" x2="775.0" y2="1203.0" stroke-width="3.25" />
<line x1="775.0" y1="1203.0" x2="837.0" y2="1103.0" stroke-width="2.58" />
<text x="624.7" y="1211.0" font-size="24.3" text-anchor="start" textLength="126.3" lengthAdjust="spacingAndGlyphs" >2xØ6.00H7</text>
<line x1="983.7" y1="1203.0" x2="995.7" y2="1203.0" stroke-width="3.25" />
<line x1="983.7" y1="1203.0" x2="907.0" y2="1107.5" stroke-width="2.58" />
<text x="1003.0" y="1211.0" font-size="24.3" text-anchor="start" textLength="94.6" lengthAdjust="spacingAndGlyphs" >2xØ9.00</text>
<line x1="839.8" y1="1107.0" x2="839.8" y2="1206.5" stroke-width="3.14" />
<line x1="952.3" y1="884.0" x2="952.3" y2="1206.5" stroke-width="3.7" />
<line x1="839.8" y1="1203.0" x2="857.8" y2="1203.0" stroke-width="3.25" />
<line x1="929.8" y1="1203.0" x2="952.5" y2="1203.0" stroke-width="3.25" />
<polygon points="839.8,1203.0 851.3,1200.7 851.3,1205.3" fill="#231f20" stroke="none"/>
<polygon points="952.5,1203.0 941.0,1205.3 941.0,1200.7" fill="#231f20" stroke="none"/>
<text x="859.8" y="1211.0" font-size="24.3" text-anchor="start" textLength="64.7" lengthAdjust="spacingAndGlyphs" >43.50</text>
<line x1="817.8" y1="1164.7" x2="961.7" y2="1164.7" stroke-width="3.25" />
<line x1="901.8" y1="1109.5" x2="901.8" y2="1168.7" stroke-width="2.91" />
<polygon points="839.8,1164.7 828.3,1167.0 828.3,1162.4" fill="#231f20" stroke="none"/>
<polygon points="901.8,1164.7 913.3,1162.4 913.3,1167.0" fill="#231f20" stroke="none"/>
<text x="975.7" y="1174.0" font-size="24.3" text-anchor="start" textLength="63.2" lengthAdjust="spacingAndGlyphs" >24.00</text>
<line x1="879.8" y1="1138.0" x2="899.0" y2="1138.0" stroke-width="3.25" />
<line x1="928.5" y1="1138.0" x2="962.9" y2="1138.0" stroke-width="3.25" />
<polygon points="901.8,1138.0 890.3,1140.3 890.3,1135.7" fill="#231f20" stroke="none"/>
<polygon points="928.5,1138.0 940.0,1135.7 940.0,1140.3" fill="#231f20" stroke="none"/>
<text x="975.7" y="1146.0" font-size="24.3" text-anchor="start" textLength="63.2" lengthAdjust="spacingAndGlyphs" >10.50</text>
<line x1="813.8" y1="1124.6" x2="813.8" y2="1262.0" stroke-width="2.91" />
<line x1="928.5" y1="1124.6" x2="928.5" y2="1262.0" stroke-width="2.91" />
<line x1="542.5" y1="1259.0" x2="630.0" y2="1259.0" stroke-width="3.25" />
<line x1="725.9" y1="1259.0" x2="813.8" y2="1259.0" stroke-width="3.25" />
<polygon points="542.5,1259.0 554.0,1256.7 554.0,1261.3" fill="#231f20" stroke="none"/>
<polygon points="813.8,1259.0 802.3,1261.3 802.3,1256.7" fill="#231f20" stroke="none"/>
<text x="640.0" y="1267.0" font-size="24.3" text-anchor="start" textLength="77.9" lengthAdjust="spacingAndGlyphs" >105.50</text>
<line x1="813.8" y1="1259.0" x2="831.8" y2="1259.0" stroke-width="3.25" />
<line x1="908.6" y1="1259.0" x2="928.5" y2="1259.0" stroke-width="3.25" />
<polygon points="813.8,1259.0 825.3,1256.7 825.3,1261.3" fill="#231f20" stroke="none"/>
<polygon points="928.5,1259.0 917.0,1261.3 917.0,1256.7" fill="#231f20" stroke="none"/>
<text x="838.6" y="1267.0" font-size="24.3" text-anchor="start" textLength="65.1" lengthAdjust="spacingAndGlyphs" >45.00</text>
<line x1="881.0" y1="884.3" x2="968.7" y2="884.3" stroke-width="2.91" />
<polygon points="952.5,885.5 954.8,897.0 950.2,897.0" fill="#231f20" stroke="none"/>
<text x="981.0" y="892.7" font-size="24.3" text-anchor="start" textLength="64.0" lengthAdjust="spacingAndGlyphs" >29.00</text>
<line x1="968.7" y1="955.0" x2="1220.0" y2="955.0" stroke-width="2.91" />
<line x1="928.5" y1="997.0" x2="1220.0" y2="997.0" stroke-width="2.91" />
<line x1="1217.8" y1="933.0" x2="1217.8" y2="955.0" stroke-width="3.25" />
<line x1="1217.8" y1="997.0" x2="1217.8" y2="1019.0" stroke-width="3.25" />
<polygon points="1217.8,954.0 1215.5,942.5 1220.1,942.5" fill="#231f20" stroke="none"/>
<polygon points="1217.8,998.0 1220.1,1009.5 1215.5,1009.5" fill="#231f20" stroke="none"/>
<text x="1187.8" y="983.2" font-size="24.3" text-anchor="start" textLength="63.0" lengthAdjust="spacingAndGlyphs" >16.00</text>
<text x="1167.0" y="557.0" font-size="24" text-anchor="middle" textLength="38.0" lengthAdjust="spacingAndGlyphs" >Bar</text>
<text x="1167.0" y="593.5" font-size="24" text-anchor="middle" textLength="99.0" lengthAdjust="spacingAndGlyphs" >Opening</text>
<text x="1325.6" y="668.4" font-size="24" text-anchor="middle" textLength="80.4" lengthAdjust="spacingAndGlyphs" >Handle</text>
<text x="1325.7" y="704.5" font-size="24" text-anchor="middle" textLength="98.5" lengthAdjust="spacingAndGlyphs" >Opening</text>
<path d="M750,718.2 L764.2,736.2 L757.6,736.2 L757.6,753 L742.4,753 L742.4,736.2 L735.8,736.2 Z" stroke-width="2.91" fill="#6ccbf3" stroke-linejoin="miter"/>
<text x="739.0" y="782.0" font-size="22" text-anchor="start" textLength="11.5" lengthAdjust="spacingAndGlyphs" >X</text>
<text x="750.8" y="782.0" font-size="22" text-anchor="start" textLength="11.5" lengthAdjust="spacingAndGlyphs" >2</text>
<text x="750.8" y="782.0" font-size="22" text-anchor="start" textLength="11.5" lengthAdjust="spacingAndGlyphs" >1</text>
</g>
</svg>
</body></html>
